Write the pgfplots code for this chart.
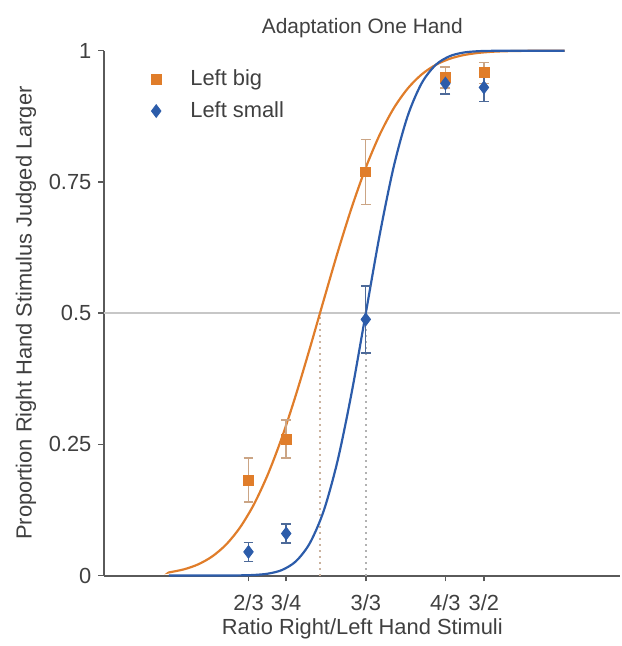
\documentclass[border=0pt]{standalone}
\usepackage{pgfplots}
\pgfplotsset{compat=1.18}
\usepackage{fontspec}
\setmainfont{Liberation Sans}
\definecolor{myorange}{RGB}{224,125,42}
\definecolor{myblue}{RGB}{44,92,170}
\definecolor{txt}{RGB}{64,64,64}
\definecolor{axc}{RGB}{90,90,90}
\begin{document}
\begin{tikzpicture}
\begin{axis}[
  scale only axis,
  width=259.5pt, height=264pt,
  xmin=-0.936, xmax=0.911, ymin=0, ymax=1,
  axis x line=bottom, axis y line=left,
  axis line style={-, axc, line width=1pt},
  xtick={-0.42,-0.285,0,0.285,0.423},
  xticklabels={2/3,3/4,3/3,4/3,3/2},
  ytick={0,0.25,0.5,0.75,1},
  yticklabels={0,0.25,0.5,0.75,1},
  tick align=outside, major tick length=3pt,
  tick style={axc, line width=0.8pt},
  ticklabel style={font=\fontsize{11}{13}\selectfont, text=txt},
  xticklabel style={yshift=-3pt},
  /pgf/number format/assume math mode=true,
  title={Adaptation One Hand},
  title style={font=\fontsize{10.5}{12}\selectfont, text=txt, at={(axis description cs:0.5,1)}, anchor=center, yshift=5.5pt},
  xlabel={Ratio Right/Left Hand Stimuli},
  xlabel style={font=\fontsize{11}{13}\selectfont, text=txt, at={(axis description cs:0.5,0)}, anchor=center, yshift=-27pt},
  ylabel={Proportion Right Hand Stimulus Judged Larger},
  ylabel style={font=\fontsize{11}{13}\selectfont, text=txt, at={(axis description cs:-0.152,0.5)}, anchor=center, rotate=0},
  legend image code/.code={\path (-3pt,-3pt) (16pt,3pt); \draw[#1] plot coordinates {(0pt,0pt)};},
  legend style={draw=none, fill=none, at={(axis description cs:0.0874,0.968)}, anchor=north west,
    font=\fontsize{11}{13}\selectfont, text=txt, row sep=4.5pt, inner sep=0pt,
    nodes={inner sep=1pt}},
  legend cell align=left,
  clip=false,
]
% bounding box of the whole figure
\path (axis description cs:-0.2023,-0.1269) (axis description cs:1,1.0966);
% reference lines
\addplot[forget plot, color=black!22, line width=0.8pt] coordinates {(-0.936,0.5) (0.911,0.5)};
\addplot[forget plot, color=myorange!40!gray!60, line width=1pt, dotted] coordinates {(-0.164,0) (-0.164,0.5)};
\addplot[forget plot, color=gray!60, line width=1pt, dotted] coordinates {(0,0) (0,0.5)};
% fitted curves
\addplot[forget plot, color=myorange, line width=1.1pt, smooth] coordinates {
(-0.705,0.006) (-0.70,0.00633) (-0.65,0.01191) (-0.60,0.02128) (-0.55,0.03632) (-0.50,0.05903)
(-0.45,0.09176) (-0.40,0.1361) (-0.35,0.1935) (-0.30,0.2634) (-0.25,0.3446)
(-0.20,0.4336) (-0.15,0.5259) (-0.10,0.6171) (-0.05,0.7019) (0.00,0.7772)
(0.05,0.8402) (0.10,0.8903) (0.15,0.9279) (0.20,0.9548) (0.25,0.9729)
(0.30,0.9845) (0.35,0.9916) (0.40,0.9956) (0.45,0.9979) (0.50,0.9990)
(0.55,0.99955) (0.60,0.9998) (0.65,0.9999) (0.712,1.0)};
\addplot[forget plot, color=myblue, line width=1.1pt, smooth] coordinates {
(-0.705,0) (-0.60,0) (-0.50,0.00006) (-0.45,0.00027) (-0.40,0.00105) (-0.35,0.00355)
(-0.30,0.0105) (-0.25,0.0272) (-0.20,0.0620) (-0.15,0.1243) (-0.10,0.2209)
(-0.05,0.3502) (0.00,0.5) (0.05,0.6498) (0.10,0.7791) (0.15,0.8757)
(0.20,0.9380) (0.25,0.9728) (0.30,0.9895) (0.35,0.99645) (0.40,0.99895)
(0.45,0.99973) (0.50,0.99994) (0.60,1.0) (0.712,1.0)};
% data
\addplot[only marks, mark=square*, mark size=2.5pt, color=myorange,
  error bars/.cd, y dir=both, y explicit, error mark=-, error mark options={rotate=90, mark size=2.5pt, line width=0.7pt, color=myorange!55!gray!70},
  error bar style={line width=0.7pt, color=myorange!55!gray!70}]
  coordinates {
  (-0.42,0.182) +- (0,0.042)
  (-0.285,0.26) +- (0,0.036)
  (0,0.769) +- (0,0.062)
  (0.285,0.949) +- (0,0.02)
  (0.423,0.958) +- (0,0.02)
  };
\addlegendentry{Left big}
\addplot[only marks, mark=diamond*, mark size=3.2pt, color=myblue,
  error bars/.cd, y dir=both, y explicit, error mark=-, error mark options={rotate=90, mark size=2.5pt, line width=0.7pt, color=myblue!60!gray},
  error bar style={line width=0.7pt, color=myblue!60!gray}]
  coordinates {
  (-0.42,0.045) +- (0,0.018)
  (-0.285,0.08) +- (0,0.018)
  (0,0.488) +- (0,0.064)
  (0.285,0.9375) +- (0,0.02)
  (0.423,0.93) +- (0,0.027)
  };
\addlegendentry{Left small}
\end{axis}
\end{tikzpicture}
\end{document}
